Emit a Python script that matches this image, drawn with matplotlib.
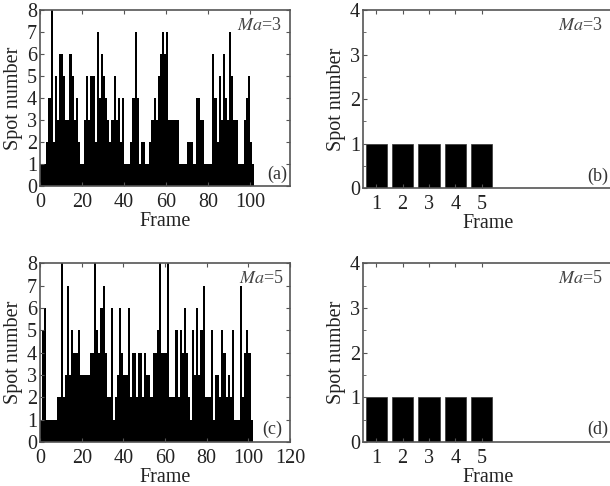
import numpy as np
import matplotlib
matplotlib.use("Agg")
import matplotlib.pyplot as plt

plt.rcParams['font.family'] = ['Liberation Serif', 'DejaVu Serif']
plt.rcParams['mathtext.fontset'] = 'stix'
plt.rcParams['font.size'] = 14.5

# spot counts per frame
spots_ma3 = [1, 1, 1, 2, 4, 8, 2, 5, 3, 6, 6, 5, 3, 3, 6, 5, 3, 4, 2, 1,
             1, 3, 5, 3, 5, 5, 2, 7, 4, 6, 5, 4, 3, 2, 3, 5, 3, 4, 2, 4,
             1, 1, 1, 2, 4, 7, 4, 1, 2, 2, 1, 1, 2, 3, 4, 3, 5, 6, 7, 6,
             7, 3, 3, 3, 3, 3, 1, 1, 1, 1, 2, 2, 2, 1, 4, 4, 3, 3, 1, 1,
             1, 1, 6, 4, 2, 5, 3, 6, 4, 3, 7, 5, 3, 3, 1, 1, 1, 3, 4, 5,
             2, 1]
spots_ma5 = [1, 5, 6, 1, 1, 1, 1, 1, 2, 2, 8, 2, 3, 7, 3, 5, 4, 4, 5, 3,
             3, 3, 3, 3, 4, 4, 8, 5, 4, 6, 7, 4, 2, 2, 6, 1, 2, 3, 6, 4,
             3, 3, 6, 2, 4, 4, 2, 4, 4, 2, 4, 3, 3, 2, 4, 4, 5, 8, 4, 4,
             4, 8, 2, 2, 2, 5, 2, 5, 4, 6, 4, 2, 1, 5, 3, 6, 3, 5, 7, 2,
             2, 2, 5, 1, 3, 3, 2, 5, 4, 2, 3, 2, 5, 1, 1, 1, 7, 2, 4, 5,
             4, 1]
frames_long = np.arange(len(spots_ma3))

frames_short = [1, 2, 3, 4, 5]
spots_short_ma3 = [1, 1, 1, 1, 1]
spots_short_ma5 = [1, 1, 1, 1, 1]

fig = plt.figure(figsize=(6.1, 4.86), dpi=100)

spine_col = '#555555'


def style(ax):
    for s in ax.spines.values():
        s.set_color(spine_col)
        s.set_linewidth(1.2)
    ax.tick_params(direction='in', top=True, right=True, length=3,
                   color=spine_col, labelcolor='#222222')
    ax.tick_params(axis='y', pad=2)
    ax.tick_params(axis='x', pad=5)
    ax.tick_params(which='minor', direction='in', top=True, right=True,
                   length=2, color=spine_col)
    ax.set_ylabel('Spot number', labelpad=3, color='#222222')
    ax.set_xlabel('Frame', labelpad=0, color='#222222')


# (a)
ax = fig.add_axes([0.0656, 0.617, 0.41, 0.362])
ax.bar(frames_long, spots_ma3, width=1, align='edge', color='black',
       linewidth=0)
ax.set_xlim(0, 119)
ax.set_ylim(0, 8)
ax.set_xticks([0, 20, 40, 60, 80, 100])
ax.set_yticks(range(0, 9))
style(ax)
ax.text(0.965, 0.96, r'$\mathit{Ma}$=3', transform=ax.transAxes,
        ha='right', va='top', color='#444444', fontsize=13)
ax.text(0.99, 0.02, '(a)', transform=ax.transAxes, ha='right', va='bottom',
        fontsize=13, color='#333333')

# (b)
ax = fig.add_axes([0.595, 0.613, 0.4115, 0.366])
ax.bar(frames_short, spots_short_ma3, width=0.8, color='black',
       edgecolor='#333333', linewidth=0.5)
ax.set_xlim(0.5, 10)
ax.set_ylim(0, 4)
ax.set_xticks(frames_short)
ax.set_yticks(range(0, 5))
ax.set_yticks(np.arange(0, 4.01, 0.5), minor=True)
style(ax)
ax.text(0.955, 0.96, r'$\mathit{Ma}$=3', transform=ax.transAxes,
        ha='right', va='top', color='#444444', fontsize=13)
ax.text(0.978, 0.02, '(b)', transform=ax.transAxes, ha='right', va='bottom',
        fontsize=13, color='#333333')

# (c)
ax = fig.add_axes([0.0656, 0.0905, 0.41, 0.368])
ax.bar(frames_long, spots_ma5, width=1, align='edge', color='black',
       linewidth=0)
ax.set_xlim(0, 120)
ax.set_ylim(0, 8)
ax.set_xticks([0, 20, 40, 60, 80, 100, 120])
ax.set_yticks(range(0, 9))
style(ax)
ax.text(0.975, 0.96, r'$\mathit{Ma}$=5', transform=ax.transAxes,
        ha='right', va='top', color='#444444', fontsize=13)
ax.text(0.97, 0.02, '(c)', transform=ax.transAxes, ha='right', va='bottom',
        fontsize=13, color='#333333')

# (d)
ax = fig.add_axes([0.595, 0.0905, 0.4115, 0.368])
ax.bar(frames_short, spots_short_ma5, width=0.8, color='black',
       edgecolor='#333333', linewidth=0.5)
ax.set_xlim(0.5, 10)
ax.set_ylim(0, 4)
ax.set_xticks(frames_short)
ax.set_yticks(range(0, 5))
ax.set_yticks(np.arange(0, 4.01, 0.5), minor=True)
style(ax)
ax.text(0.955, 0.96, r'$\mathit{Ma}$=5', transform=ax.transAxes,
        ha='right', va='top', color='#444444', fontsize=13)
ax.text(0.978, 0.02, '(d)', transform=ax.transAxes, ha='right', va='bottom',
        fontsize=13, color='#333333')

fig.savefig('out.png', dpi=100)
